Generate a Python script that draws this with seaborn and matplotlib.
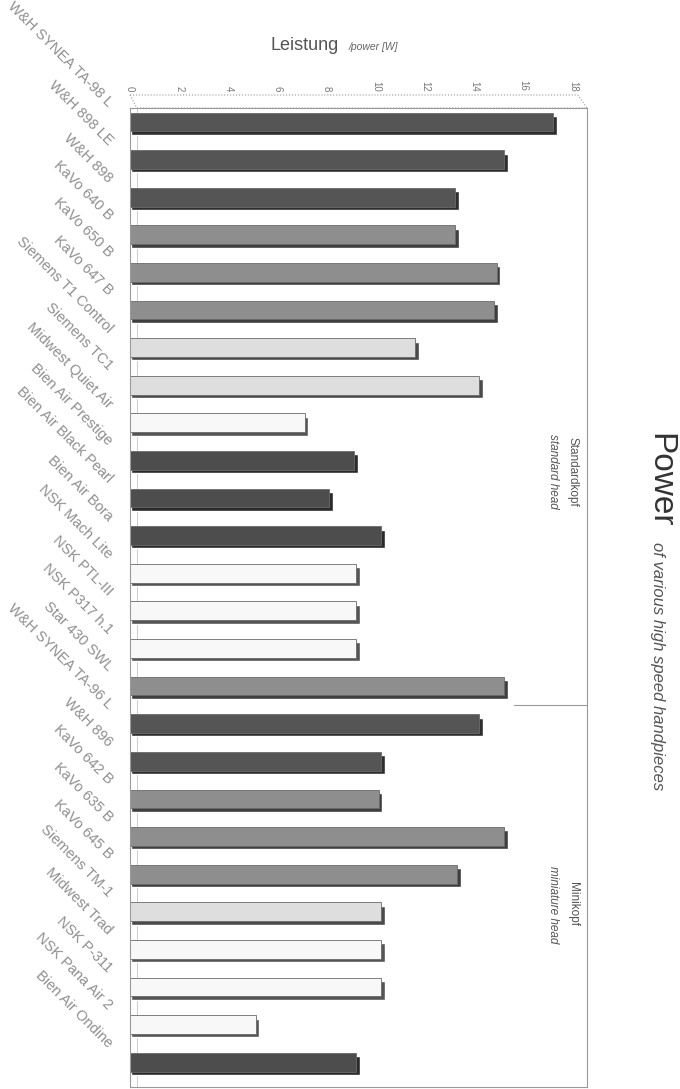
import numpy as np
import pandas as pd
import matplotlib
matplotlib.use('Agg')
import matplotlib.pyplot as plt
import matplotlib.transforms as mtransforms
import seaborn as sns

# Modelle (von oben nach unten)
modelle = ['W&H SYNEA TA-98 L', 'W&H 898 LE', 'W&H 898', 'KaVo 640 B', 'KaVo 650 B',
           'KaVo 647 B', 'Siemens T1 Control', 'Siemens TC1', 'Midwest Quiet Air',
           'Bien Air Prestige', 'Bien Air Black Pearl', 'Bien Air Bora', 'NSK Mach Lite',
           'NSK PTL-III', 'NSK P317 h.1', 'Star 430 SWL', 'W&H SYNEA TA-96 L', 'W&H 896',
           'KaVo 642 B', 'KaVo 635 B', 'KaVo 645 B', 'Siemens TM-1', 'Midwest Trad',
           'NSK P-311', 'NSK Pana Air 2', 'Bien Air Ondine']
hersteller = ['W&H', 'W&H', 'W&H', 'KaVo', 'KaVo', 'KaVo', 'Siemens', 'Siemens', 'Midwest',
              'Bien Air', 'Bien Air', 'Bien Air', 'NSK', 'NSK', 'NSK', 'Star',
              'W&H', 'W&H', 'KaVo', 'KaVo', 'KaVo', 'Siemens', 'Midwest', 'NSK', 'NSK', 'Bien Air']
leistung = [17.2, 15.2, 13.2, 13.2, 14.9, 14.8, 11.6, 14.2, 7.1, 9.1, 8.1, 10.2, 9.2,
            9.2, 9.2, 15.2, 14.2, 10.2, 10.1, 15.2, 13.3, 10.2, 10.2, 10.2, 5.1, 9.2]
farben = {'W&H': '#555555', 'KaVo': '#8e8e8e', 'Siemens': '#dedede', 'Midwest': '#f8f8f8',
          'Bien Air': '#4d4d4d', 'NSK': '#f8f8f8', 'Star': '#8e8e8e'}
schatten = {'W&H': '#2e2e2e', 'KaVo': '#3e3e3e', 'Siemens': '#4a4a4a', 'Midwest': '#555555',
            'Bien Air': '#2a2a2a', 'NSK': '#555555', 'Star': '#3e3e3e'}
x_ticks = [0, 2, 4, 6, 8, 10, 12, 14, 16, 18]

df = pd.DataFrame({'modell': modelle, 'hersteller': hersteller, 'leistung': leistung})

sns.set_theme(style='white')
plt.rcParams['font.family'] = ['Liberation Sans', 'DejaVu Sans']

fig = plt.figure(figsize=(6.8, 10.89), dpi=100)
ax = fig.add_axes([130 / 680, 2 / 1089, 457 / 680, 979 / 1089])

# Rueckwand-Linie der 3D-Darstellung
ax.plot([0.015, 0.015], [0, 1], transform=ax.transAxes, color='#c4c4c4', lw=0.6, zorder=0)

# 3D-Schatten unter den Balken
pos = np.arange(len(df))
ax.barh(pos + 0.09, df['leistung'] + 0.1, left=0.05, height=0.5,
        color=[schatten[h] for h in df['hersteller']], zorder=1)

sns.barplot(data=df, x='leistung', y='modell', hue='hersteller', palette=farben,
            dodge=False, legend=False, width=0.5, edgecolor='#6a6a6a', linewidth=0.6,
            ax=ax, zorder=2)

ax.set_xlim(0, 18.57)
ax.set_ylim(25.66, -0.37)
ax.xaxis.tick_top()
ax.set_xticks(x_ticks)
ax.set_xticklabels([str(t) for t in x_ticks], rotation=-90, fontsize=7, color='#777777')
ax.tick_params(axis='x', length=0, pad=12)
ax.set_xlabel('')
ax.set_ylabel('')

ax.tick_params(axis='y', length=0, labelsize=10.5, labelcolor='#8f8f8f', pad=2)
offset = mtransforms.ScaledTranslation(-0.17, 0.17, fig.dpi_scale_trans)
for lab in ax.get_yticklabels():
    lab.set_rotation(-45)
    lab.set_ha('right')
    lab.set_va('center')
    lab.set_rotation_mode('anchor')
    lab.set_transform(lab.get_transform() + offset)

for side in ['left', 'right', 'bottom', 'top']:
    ax.spines[side].set_visible(True)
    ax.spines[side].set_color('#9a9a9a')
    ax.spines[side].set_linewidth(0.8)

# Boden der 3D-Darstellung
dy = 13 / 979
ax.plot([0, 0.015, 1, 0.98, 0], [1 + dy, 1, 1, 1 + dy, 1 + dy], transform=ax.transAxes,
        color='#9a9a9a', lw=0.8, ls=':', clip_on=False)

# Trennlinie Standard-/Minikopf
ax.plot([15.6, 18.57], [15.5, 15.5], color='#999999', lw=0.8, clip_on=False)
ax.text(18.0, 9.3, 'Standardkopf', rotation=-90, ha='center', va='center',
        fontsize=8.5, color='#555555')
ax.text(17.2, 9.3, 'standard head', rotation=-90, ha='center', va='center',
        fontsize=8.5, color='#555555', style='italic')
ax.text(18.0, 20.8, 'Minikopf', rotation=-90, ha='center', va='center',
        fontsize=8.5, color='#555555')
ax.text(17.2, 20.8, 'miniature head', rotation=-90, ha='center', va='center',
        fontsize=8.5, color='#555555', style='italic')

# Achsentitel und Titel
fig.text(270 / 680, 1 - 46 / 1089, 'Leistung', fontsize=13, color='#555555',
         ha='left', va='center')
fig.text(349 / 680, 1 - 47 / 1089, '/power [W]', fontsize=7.5, color='#666666',
         ha='left', va='center', style='italic')
fig.text(660 / 680, 1 - 433 / 1089, 'Power', fontsize=24, color='#333333',
         rotation=-90, ha='center', va='top')
fig.text(658 / 680, 1 - 542 / 1089, 'of various high speed handpieces', fontsize=12,
         color='#555555', rotation=-90, ha='center', va='top', style='italic')

fig.savefig('out.png', dpi=100)
